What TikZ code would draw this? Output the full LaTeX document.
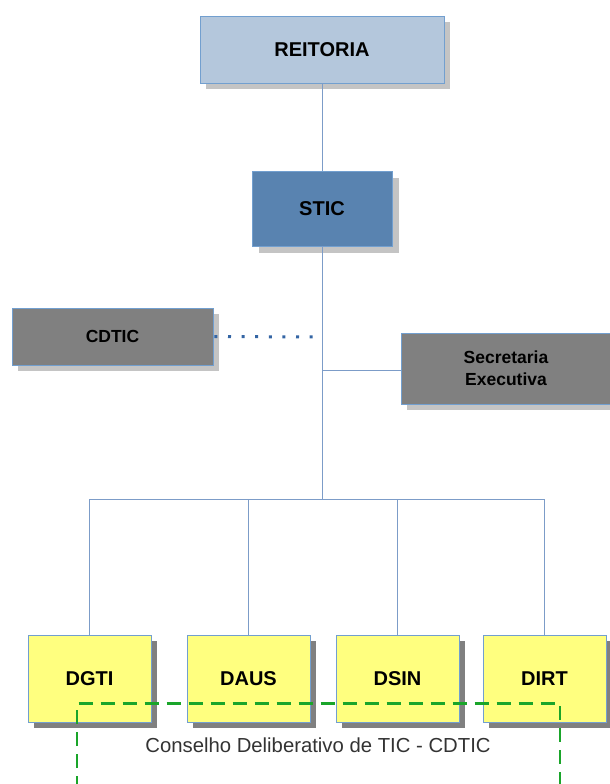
\documentclass[tikz,border=0pt]{standalone}
\usepackage{fontspec}
\setmainfont{Liberation Sans}
\definecolor{reifill}{HTML}{B4C7DC}
\definecolor{boxline}{HTML}{729FCF}
\definecolor{sticfill}{HTML}{5983B0}
\definecolor{grayfill}{HTML}{808080}
\definecolor{yelfill}{HTML}{FFFF7F}
\definecolor{lightshadow}{HTML}{C4C4C4}
\definecolor{darkshadow}{HTML}{808080}
\definecolor{linkblue}{HTML}{7C9CC8}
\definecolor{dotblue}{HTML}{3465A4}
\definecolor{cdgreen}{HTML}{1AA52A}
\definecolor{txtgray}{HTML}{333333}
\begin{document}
\begin{tikzpicture}[x=1pt,y=-1pt,
  orgbox/.style={draw=boxline, line width=0.8pt, minimum width=#1, inner sep=0pt, font=\bfseries\fontsize{20}{23}\selectfont, align=center},
  conn/.style={draw=linkblue, line width=0.8pt}]
\useasboundingbox (0,0) rectangle (610,784);
% shadows
\fill[lightshadow] (206,22) rectangle (450,89);
\fill[lightshadow] (259,178) rectangle (399,253);
\fill[lightshadow] (18,314) rectangle (219,371);
\fill[lightshadow] (407,339) rectangle (617,410);
\foreach \a/\b in {28/151,187/310,336/459,483/606}{
  \fill[darkshadow] (\a+6,641) rectangle (\b+6,728);
}
% nodes
\node[orgbox=244pt, minimum height=67pt, fill=reifill] (rei) at (322,49.5) {REITORIA};
\node[orgbox=140pt, minimum height=75pt, fill=sticfill] (stic) at (322,208.5) {STIC};
\node[orgbox=201pt, minimum height=57pt, fill=grayfill, font=\bfseries\fontsize{17.5}{20}\selectfont] (cdtic) at (112.5,336.5) {CDTIC};
\node[orgbox=210pt, minimum height=71pt, fill=grayfill, font=\bfseries\fontsize{17.5}{22}\selectfont] (sec) at (506,368.5) {Secretaria\\Executiva};
\node[orgbox=123pt, minimum height=87pt, fill=yelfill] (dgti) at (89.5,678.5) {DGTI};
\node[orgbox=123pt, minimum height=87pt, fill=yelfill] (daus) at (248.5,678.5) {DAUS};
\node[orgbox=123pt, minimum height=87pt, fill=yelfill] (dsin) at (397.5,678.5) {DSIN};
\node[orgbox=123pt, minimum height=87pt, fill=yelfill] (dirt) at (544.5,678.5) {DIRT};
% junction coordinates
\coordinate (jsec) at (322,370);
\coordinate (jdot) at (316,337);
\coordinate (bus) at (322,499);
\coordinate (b1) at (89.5,499);
\coordinate (b2) at (248.5,499);
\coordinate (b3) at (397.5,499);
\coordinate (b4) at (544.5,499);
% connectors
\draw[conn] (rei.south) -- (stic.north);
\draw[conn] (stic.south) -- (bus);
\draw[conn] (jsec) -- (sec.west |- jsec);
\draw[conn] (b1) -- (b4);
\draw[conn] (b1) -- (dgti.north);
\draw[conn] (b2) -- (daus.north);
\draw[conn] (b3) -- (dsin.north);
\draw[conn] (b4) -- (dirt.north);
\draw[dotblue, line width=3pt, dash pattern=on 3pt off 10.6pt] (cdtic.east) ++(1,0) -- (jdot);
% dashed council box
\coordinate (c1) at (77,703.5);
\coordinate (c2) at (560,703.5);
\draw[cdgreen, line width=2.5pt, dash pattern=on 14pt off 8pt] (77,790) -- (c1) -- (c2) -- (560,790);
\node[font=\fontsize{20.3}{23}\selectfont, text=txtgray] (ctext) at (318,745) {Conselho Deliberativo de TIC - CDTIC};
\end{tikzpicture}
\end{document}
